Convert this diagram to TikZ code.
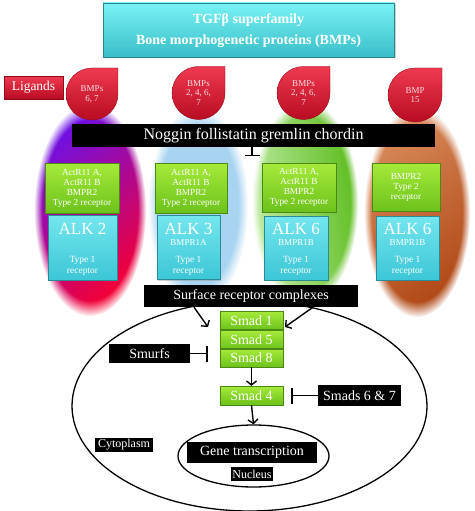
\documentclass[tikz,border=0pt]{standalone}
\usepackage{fontspec}
\setmainfont{Liberation Serif}
\usetikzlibrary{arrows.meta,shapes.geometric,fadings,shadows}
\definecolor{limeT}{HTML}{A6EA3A}
\definecolor{limeB}{HTML}{6CC21C}
\definecolor{cyanT}{HTML}{74E6EE}
\definecolor{cyanB}{HTML}{3CC6D6}
\definecolor{titleT}{HTML}{78F2F4}
\definecolor{titleB}{HTML}{3ABEC8}
\definecolor{dropT}{HTML}{EE3A50}
\definecolor{dropB}{HTML}{B80C22}
\definecolor{dropText}{HTML}{F8DCE0}
\definecolor{violetT}{HTML}{6A10E8}
\definecolor{redB}{HTML}{F80030}
\definecolor{skyE}{HTML}{A8D4F2}
\definecolor{greenL}{HTML}{C4EEAA}
\definecolor{greenR}{HTML}{58BA18}
\definecolor{brownT}{HTML}{D88A5A}
\definecolor{brownB}{HTML}{B04816}
\newcommand\bmpdrop[5]{%
  \shade[top color=dropT, bottom color=dropB, draw=dropB!80!black, line width=0.4pt]
    ({#1+#3},{#2}) -- ({#1+#3},{#2-#3}) -- ({#1},{#2-#3})
    arc[start angle=270,end angle=0,radius=#3] -- cycle;
  \node[droptext] (#4) at (#1,#2) {#5};
}
\begin{document}
\begin{tikzpicture}[x=1pt,y=-1pt,
  droptext/.style={text=dropText, align=center, inner sep=0pt, font=\fontsize{9}{9.6}\selectfont},
  gbox/.style={draw=limeB!70!black, line width=0.3pt, top color=limeT, bottom color=limeB,
    text=white, align=center, inner sep=0pt, font=\fontsize{9.3}{10}\selectfont,
    drop shadow={shadow xshift=1pt, shadow yshift=-1pt, opacity=0.35}},
  cbox/.style={draw=cyanB!70!black, line width=0.3pt, top color=cyanT, bottom color=cyanB, inner sep=0pt,
    drop shadow={shadow xshift=1pt, shadow yshift=-1pt, opacity=0.35}},
  alk/.style={text=white, inner sep=0pt, font=\fontsize{17}{17}\selectfont},
  bmpr/.style={text=white, inner sep=0pt, font=\fontsize{9}{9}\selectfont},
  typeone/.style={text=white, inner sep=0pt, align=center, font=\fontsize{9.5}{11}\selectfont},
  blk/.style={fill=black, text=white, inner sep=0pt},
  smad/.style={gbox, minimum width=63pt, minimum height=18pt, font=\fontsize{14}{14}\selectfont},
  arr/.style={line width=1.4pt, -{Straight Barb[length=4pt,width=10pt]}},
  inh/.style={line width=1.4pt, -{Bar[width=16pt,line width=1.4pt]}}
]
\useasboundingbox (0,0) rectangle (474,511);
\fill[white] (0,0) rectangle (474,511);

% fuzzy receptor ellipses
\shade[path fading=circle with fuzzy edge 15 percent, top color=violetT, bottom color=redB, shading angle=40]
  (90,210) ellipse[x radius=56, y radius=106];
\fill[path fading=circle with fuzzy edge 20 percent, skyE]
  (198,206) ellipse[x radius=50, y radius=100];
\shade[path fading=circle with fuzzy edge 15 percent, left color=greenL, right color=greenR, shading angle=100]
  (305,203) ellipse[x radius=53, y radius=102];
\shade[path fading=circle with fuzzy edge 15 percent, top color=brownT, bottom color=brownB, shading angle=35]
  (417,212) ellipse[x radius=53, y radius=105];

% cell and nucleus
\node[ellipse, draw, line width=1.3pt, minimum width=355pt, minimum height=210pt, inner sep=0pt] (cell) at (249.5,406) {};
\node[ellipse, draw, line width=1.3pt, minimum width=151pt, minimum height=62pt, inner sep=0pt] (nucleus) at (253.5,456) {};

% title
\node[draw=titleB!70!black, line width=0.3pt, top color=titleT, bottom color=titleB, minimum width=291pt, minimum height=54pt,
  drop shadow={shadow xshift=1.5pt, shadow yshift=-1.5pt, opacity=0.35}] (title) at (248.5,30) {};
\node[text=white, inner sep=0pt, font=\fontsize{14}{14}\bfseries\selectfont] (t1) at (248.5,20) {TGFβ superfamily};
\node[text=white, inner sep=0pt, font=\fontsize{14}{14}\bfseries\selectfont] (t2) at (248.5,41) {Bone morphogenetic proteins (BMPs)};

% ligands
\node[draw=dropB!80!black, line width=0.3pt, top color=dropT, bottom color=dropB, text=white, inner sep=0pt,
  minimum width=59pt, minimum height=23pt, font=\fontsize{13.5}{13.5}\selectfont,
  drop shadow={shadow xshift=1pt, shadow yshift=-1pt, opacity=0.35}] (ligands) at (33.5,87.5) {Ligands};
\bmpdrop{92}{94}{26}{d1}{BMPs\\6, 7}
\bmpdrop{198.5}{93}{26.5}{d2}{BMPs\\2, 4, 6,\\7}
\bmpdrop{303.5}{93}{26.5}{d3}{BMPs\\2, 4, 6,\\7}
\bmpdrop{415}{95}{27}{d4}{BMP\\15}

% noggin bar
\node[blk, minimum width=363pt, minimum height=23pt, font=\fontsize{16}{16}\selectfont] (noggin) at (253.5,135.5) {Noggin follistatin gremlin chordin};
\coordinate (nogT) at (252,156);
\draw[line width=1.4pt, -{Bar[width=15pt,line width=1.4pt]}] (noggin.south -| nogT) -- (nogT);

% type 2 receptors
\node[gbox, minimum width=74pt, minimum height=50pt] (g1) at (82,188) {ActR11 A,\\ActR11 B\\BMPR2\\Type 2 receptor};
\node[gbox, minimum width=72pt, minimum height=50pt] (g2) at (191,188) {ActR11 A,\\ActR11 B\\BMPR2\\Type 2 receptor};
\node[gbox, minimum width=74pt, minimum height=49pt] (g3) at (299,187.5) {ActR11 A,\\ActR11 B\\BMPR2\\Type 2 receptor};
\node[gbox, minimum width=68pt, minimum height=48pt] (g4) at (406,187) {BMPR2\\Type 2\\receptor};

% type 1 receptors
\node[cbox, minimum width=69pt, minimum height=65pt] (c1) at (82.5,247.5) {};
\node[cbox, minimum width=63pt, minimum height=64pt] (c2) at (188.5,247.5) {};
\node[cbox, minimum width=64pt, minimum height=64pt] (c3) at (296,248) {};
\node[cbox, minimum width=63pt, minimum height=64pt] (c4) at (407.5,248) {};
\node[alk] (a1) at (82.5,229) {ALK 2};
\node[alk] (a2) at (188.5,229) {ALK 3};
\node[alk] (a3) at (296,229) {ALK 6};
\node[alk] (a4) at (407.5,229) {ALK 6};
\node[bmpr] (b2) at (188.5,242.5) {BMPR1A};
\node[bmpr] (b3) at (296,242.5) {BMPR1B};
\node[bmpr] (b4) at (407.5,242.5) {BMPR1B};
\node[typeone] (y1) at (82.5,265.5) {Type 1\\receptor};
\node[typeone] (y2) at (188.5,265.5) {Type 1\\receptor};
\node[typeone] (y3) at (296,265.5) {Type 1\\receptor};
\node[typeone] (y4) at (407.5,265.5) {Type 1\\receptor};

% surface receptor complexes
\node[blk, minimum width=214pt, minimum height=22pt, font=\fontsize{14}{14}\selectfont] (surface) at (251,296) {Surface receptor complexes};

% smads
\node[smad] (s1) at (251.5,320.5) {Smad 1};
\node[smad] (s5) at (251.5,339.5) {Smad 5};
\node[smad] (s8) at (251.5,358) {Smad 8};
\node[smad, minimum height=19pt] (s4) at (251.5,395.5) {Smad 4};

\coordinate (la) at (208,327);
\coordinate (ra) at (285,327);
\draw[arr] ([xshift=-57pt]surface.south) -- (la);
\draw[arr] ([xshift=62pt]surface.south) -- (ra);
\draw[arr] (s8.south) -- (s4.north);
\draw[arr] (s4.south) -- (nucleus.north);

% inhibitors
\node[blk, minimum width=81pt, minimum height=19pt, font=\fontsize{14}{14}\selectfont] (smurfs) at (149.5,353.5) {Smurfs};
\draw[inh, shorten >=12pt] (smurfs.east) -- (smurfs.east -| s8.west);
\node[blk, minimum width=83pt, minimum height=21pt, font=\fontsize{14}{14}\selectfont] (s67) at (359.5,395.5) {Smads 6 \& 7};
\draw[inh, shorten >=8pt] (s67.west) -- (s67.west -| s4.east);

% cytoplasm / nucleus
\node[blk, minimum width=58pt, minimum height=14pt, font=\fontsize{12}{12}\selectfont] (cyto) at (124,445) {Cytoplasm};
\node[blk, minimum width=130pt, minimum height=21pt, font=\fontsize{14}{14}\selectfont] (gene) at (252,452.5) {Gene transcription};
\node[blk, minimum width=42pt, minimum height=14pt, font=\fontsize{12}{12}\selectfont] (nuc) at (252,474) {Nucleus};
\end{tikzpicture}
\end{document}
